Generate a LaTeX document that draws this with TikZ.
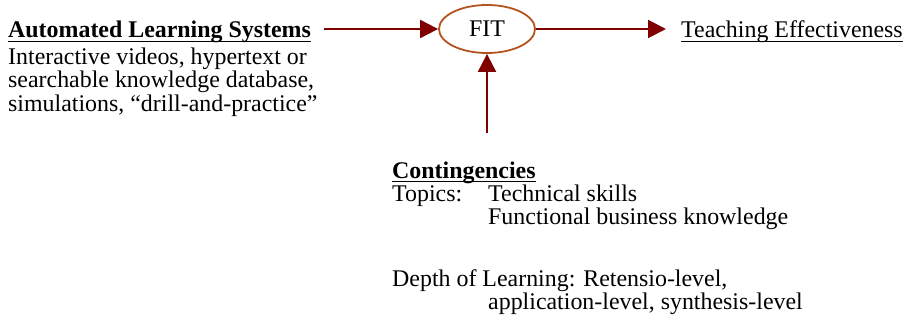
\documentclass[tikz,border=0pt]{standalone}
\usepackage{fontspec}
\setmainfont{Liberation Serif}
\usetikzlibrary{arrows.meta,shapes.geometric}

\definecolor{arrowred}{HTML}{800000}
\definecolor{rimbrown}{HTML}{B5531F}

\tikzset{
    txt/.style={anchor=base west, inner sep=0pt, font=\fontsize{23.9}{23}\selectfont},
    uline/.style={line width=1.8pt},
    link/.style={draw=arrowred, fill=arrowred, line width=2pt,
        -{Triangle[length=18pt,width=18pt]}}
}

\begin{document}
\begin{tikzpicture}[x=1pt,y=-1pt]
    \useasboundingbox (0,0) rectangle (906,321);

    % Automated learning systems, left
    \node[txt] (als) at (8,38) {\textbf{Automated Learning Systems}};
    \draw[uline] ([yshift=-3.5pt]als.base west) -- ([yshift=-3.5pt]als.base east);
    \node[txt] (als1) at (8,65) {Interactive videos, hypertext or};
    \node[txt] (als2) at (8,88) {searchable knowledge database,};
    \node[txt] (als3) at (8,111) {simulations, ``drill-and-practice''};

    % FIT in the middle
    \node[ellipse, draw=rimbrown, line width=1.8pt, minimum width=96pt,
        minimum height=48pt, inner sep=0pt, font=\fontsize{23.9}{23}\selectfont]
        (fit) at (487,29) {FIT};

    % Teaching effectiveness, right
    \node[txt] (te) at (681,38) {Teaching Effectiveness};
    \draw[uline] ([yshift=-3.5pt]te.base west) -- ([yshift=-3.5pt]te.base east);

    % Contingencies, below
    \node[txt] (con) at (392,178) {\textbf{Contingencies}};
    \draw[uline] ([yshift=-3.5pt]con.base west) -- ([yshift=-3.5pt]con.base east);
    \node[txt] (top) at (392,201) {Topics:};
    \node[txt] (top1) at (488,201) {Technical skills};
    \node[txt] (top2) at (488,224) {Functional business knowledge};
    \node[txt] (dep) at (392,286) {Depth of Learning: Retensio-level,};
    \node[txt] (dep1) at (488,309) {application-level, synthesis-level};

    % Arrows into and out of FIT
    \draw[link, shorten <=13pt] (als.east |- fit.west) -- (fit.west);
    \draw[link, shorten >=15pt] (fit.east) -- (fit.east -| te.west);
    \draw[link, shorten <=28pt] (fit.south |- con.north) -- (fit.south);
\end{tikzpicture}
\end{document}
